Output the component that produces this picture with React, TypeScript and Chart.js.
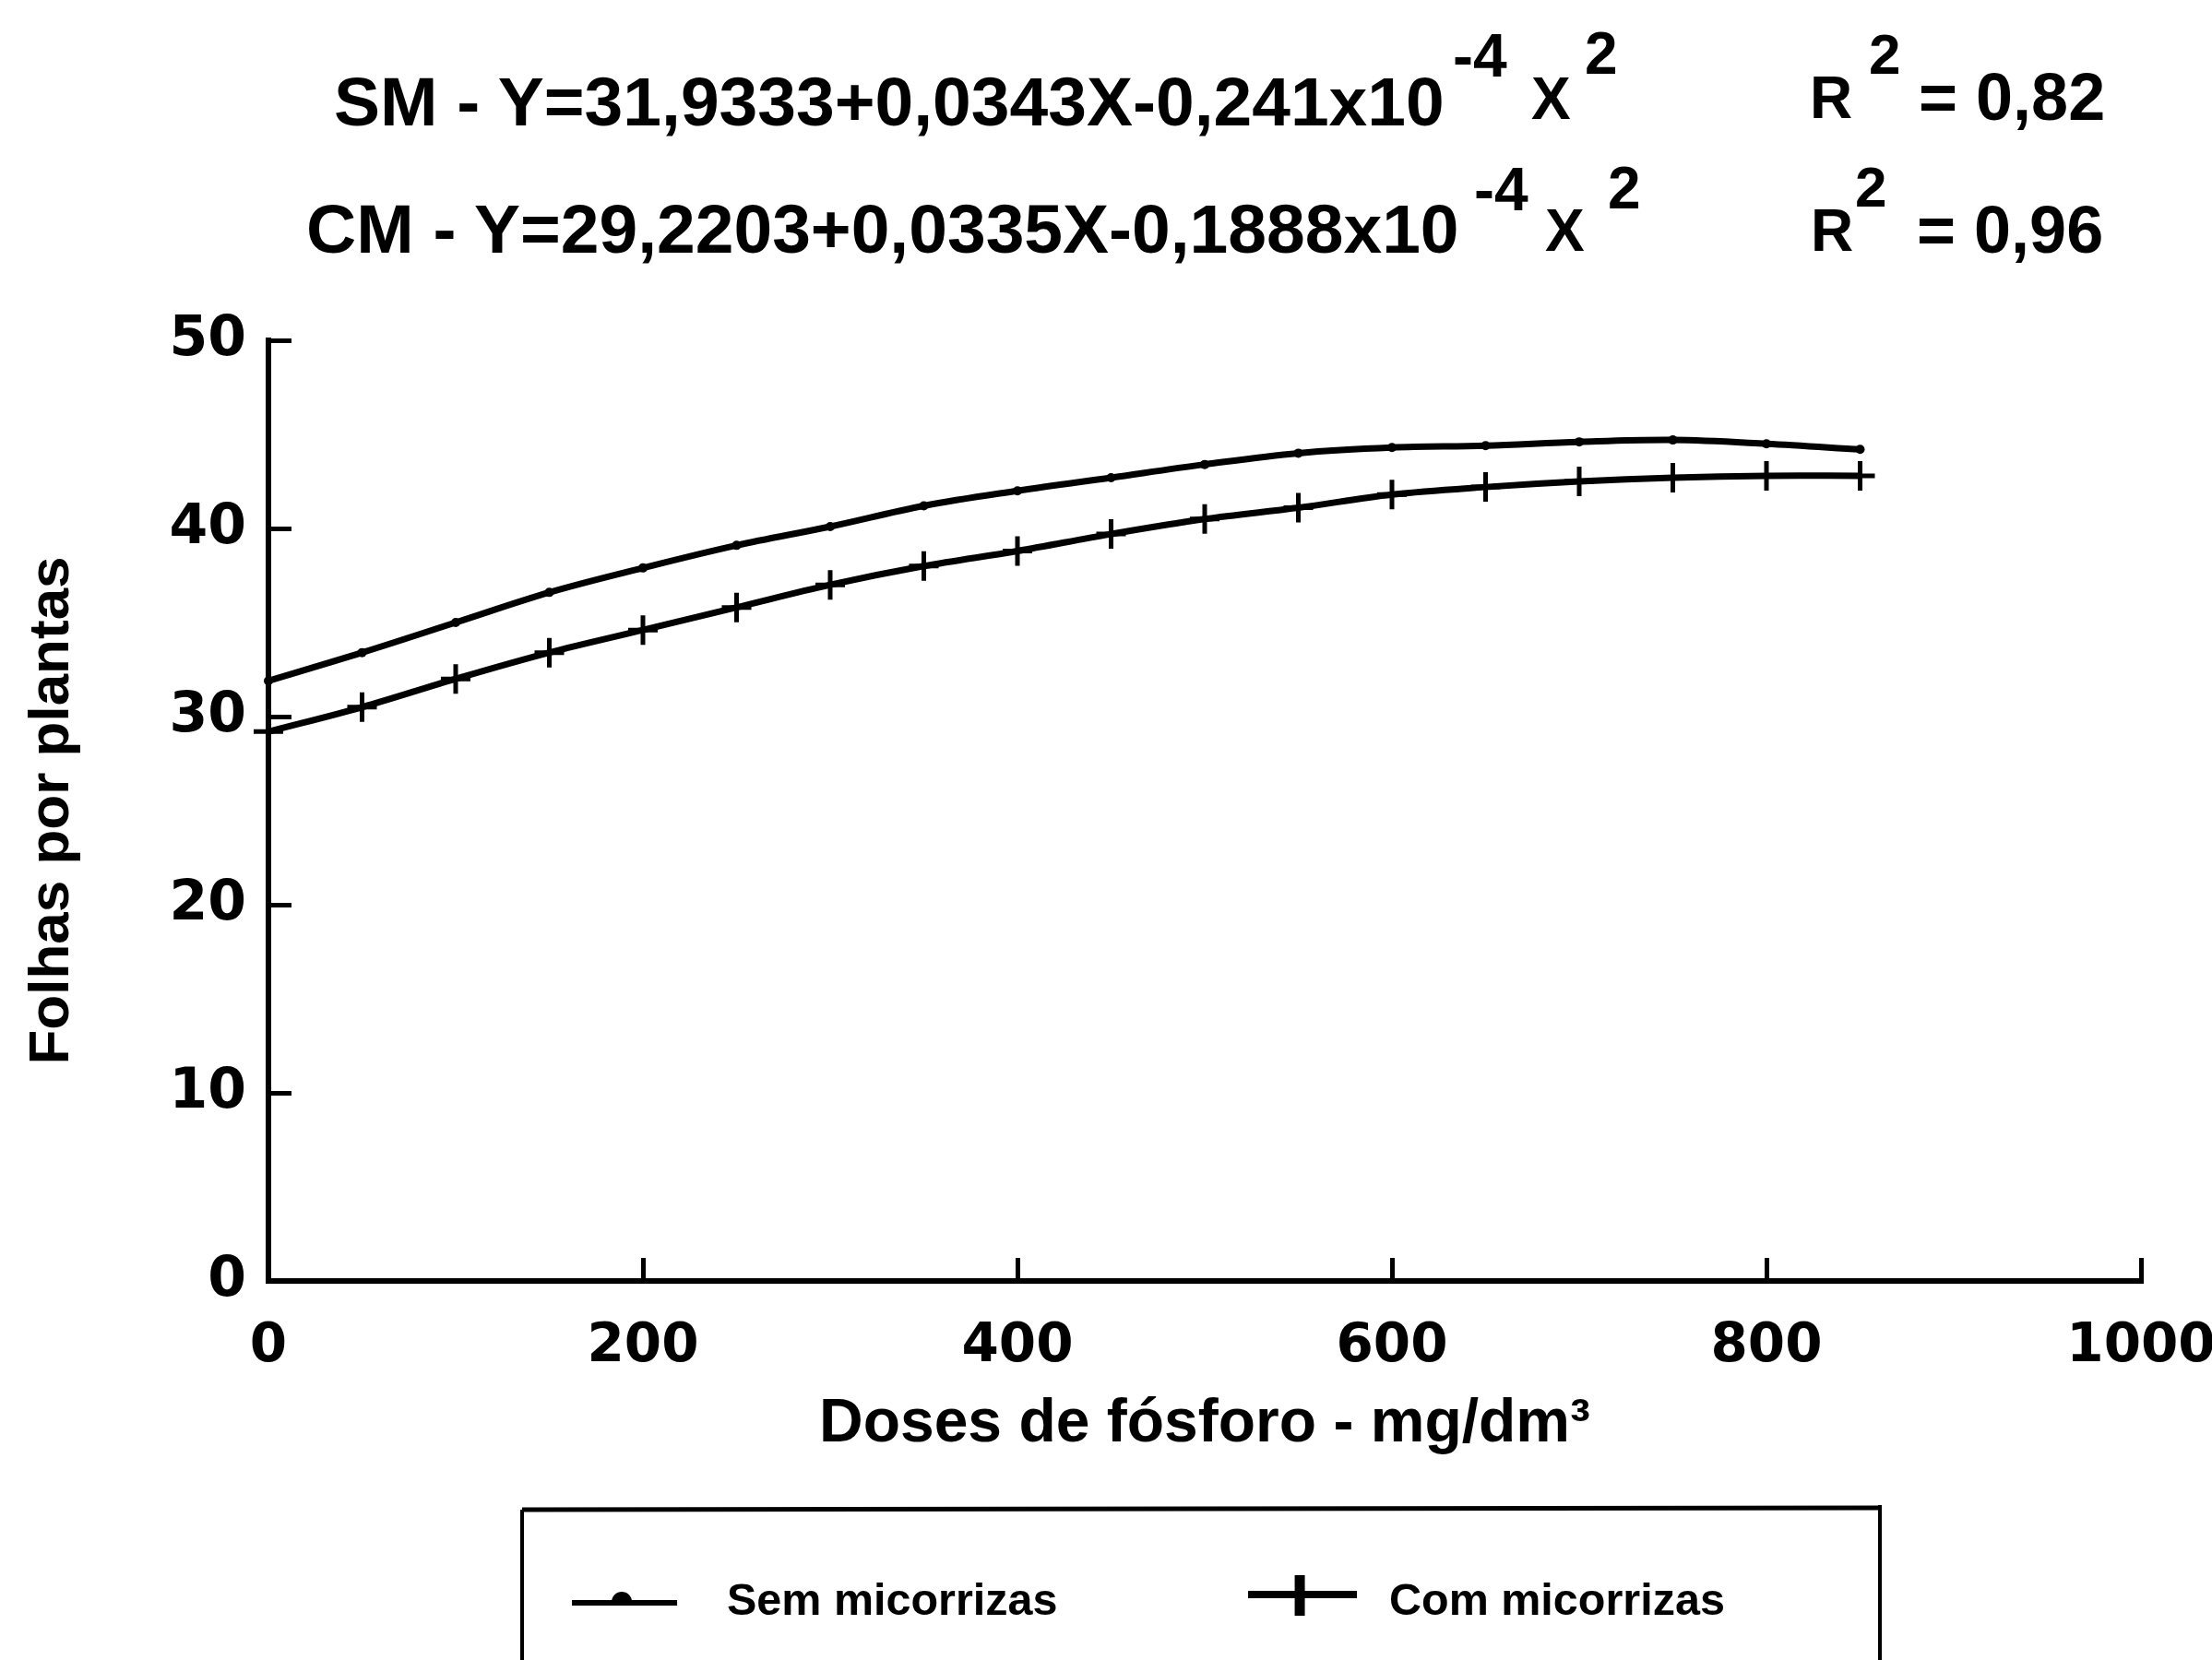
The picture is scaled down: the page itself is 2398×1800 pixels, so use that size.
import React, { useEffect, useRef } from 'react';
import { Chart, registerables } from 'chart.js';

Chart.register(...registerables);

// ---- data ----
const doses = [0, 50, 100, 150, 200, 250, 300, 350, 400, 450, 500, 550, 600, 650, 700, 750, 800, 850];
const semMicorrizas = [31.9, 33.4, 35.0, 36.6, 37.9, 39.1, 40.1, 41.2, 42.0, 42.7, 43.4, 44.0, 44.3, 44.4, 44.6, 44.7, 44.5, 44.2];
const comMicorrizas = [29.2, 30.5, 32.0, 33.4, 34.6, 35.8, 37.0, 38.0, 38.8, 39.7, 40.5, 41.1, 41.8, 42.2, 42.5, 42.7, 42.8, 42.8];
const seriesLabels = ['Sem micorrizas', 'Com micorrizas'];
const xRange = [0, 1000];
const xStep = 200;
const yRange = [0, 50];
const yStep = 10;
const xTitle = 'Doses de fósforo - mg/dm³';
const yTitle = 'Folhas por plantas';

const eqSM = ['SM - Y=31,9333+0,0343X-0,241x10', '-4', 'X', '2'];
const r2SM = ['R', '2', '= 0,82'];
const eqCM = ['CM - Y=29,2203+0,0335X-0,1888x10', '-4', 'X', '2'];
const r2CM = ['R', '2', '= 0,96'];

const SANS = '"Liberation Sans", Arial, sans-serif';
const TICKFONT = '"DejaVu Sans", sans-serif';
const LEGENDFONT = '"Liberation Sans Narrow", "Liberation Sans", Arial, sans-serif';

type PieceProps = { x: number; base: number; size: number; text: string };
function Piece({ x, base, size, text }: PieceProps) {
  return (
    <span
      style={{
        position: 'absolute',
        left: x,
        top: base - 0.8465 * size,
        fontSize: size,
        lineHeight: `${size}px`,
        fontFamily: SANS,
        fontWeight: 'bold',
        whiteSpace: 'pre',
        color: '#000',
      }}
    >
      {text}
    </span>
  );
}

export default function App() {
  const ref = useRef<HTMLCanvasElement | null>(null);

  useEffect(() => {
    const canvas = ref.current;
    if (!canvas) return;

    const plotTop = 369;
    const plotRight = 2321;
    const plotBottom = 1389;
    const plotLeft = 291;

    // legend metrics
    const mctx = document.createElement('canvas').getContext('2d')!;
    mctx.font = `bold 100px ${LEGENDFONT}`;
    const w100 = mctx.measureText(seriesLabels[0]).width;
    const F = Math.round((100 * 360) / w100 * 2) / 2;
    mctx.font = `bold ${F}px ${LEGENDFONT}`;
    const t1 = mctx.measureText(seriesLabels[0]).width;
    const t2 = mctx.measureText(seriesLabels[1]).width;
    const T1 = 788;
    const T2 = 1506;
    const p = Math.max(4, plotRight - t1 - t2 - 2 * T1);
    const X = T2 - T1 - t1 - p;
    const boxW = Math.max(40, X - F / 2);
    const sym1 = 677;
    const sym2 = 1412;
    const textMid = 1738;
    const legendTop = textMid - F / 2 - p;
    const xAxisH = legendTop - plotBottom;
    const legendH = F + p + 10;
    const padBottom = 1800 - legendTop - legendH;

    const makeSym = (kind: 'sem' | 'com', centerX: number) => {
      const c = document.createElement('canvas');
      c.width = Math.round(boxW);
      c.height = 90;
      const g = c.getContext('2d')!;
      const cx = c.width / 2 + centerX;
      g.fillStyle = '#000';
      g.strokeStyle = '#000';
      if (kind === 'sem') {
        const cy = 45;
        g.lineWidth = 6;
        g.beginPath();
        g.moveTo(cx - 57, cy);
        g.lineTo(cx + 57, cy);
        g.stroke();
        g.beginPath();
        g.arc(cx - 3, cy - 1, 11, Math.PI, 0);
        g.fill();
      } else {
        const cy = 45 - 9;
        g.lineWidth = 8;
        g.beginPath();
        g.moveTo(cx - 59, cy);
        g.lineTo(cx + 59, cy);
        g.stroke();
        g.lineWidth = 11;
        g.beginPath();
        g.moveTo(cx - 3, cy - 21);
        g.lineTo(cx - 3, cy + 23);
        g.stroke();
      }
      return c;
    };
    const off1 = sym1 - (T1 - X + boxW / 2);
    const off2 = sym2 - (T2 - X + boxW / 2);
    const legendImages = [makeSym('sem', off1), makeSym('com', off2)];

    const tickSize = 58;
    const xTickPad = 1461 - plotBottom + 25 - (tickSize * 1.2) / 2;
    const xTitleSize = 66;
    const xTitlePadBottom = plotBottom + xAxisH - 1545 - (xTitleSize * 1.2) / 2;

    const legendFrame = {
      id: 'legendFrame',
      afterDraw(chart: any) {
        const ctx = chart.ctx;
        ctx.save();
        ctx.strokeStyle = '#000';
        ctx.lineWidth = 5;
        ctx.beginPath();
        ctx.moveTo(566, 1637);
        ctx.lineTo(2040, 1635);
        ctx.stroke();
        ctx.lineWidth = 4;
        ctx.beginPath();
        ctx.moveTo(566, 1637);
        ctx.lineTo(566, 1800);
        ctx.moveTo(2038, 1632);
        ctx.lineTo(2038, 1800);
        ctx.stroke();
        ctx.restore();
      },
    };

    const chart = new Chart(canvas, {
      type: 'line',
      data: {
        datasets: [
          {
            label: seriesLabels[0],
            data: doses.map((x, i) => ({ x, y: semMicorrizas[i] })),
            borderColor: '#000',
            backgroundColor: '#000',
            borderWidth: 7,
            pointStyle: 'circle',
            pointRadius: 5,
            pointBorderWidth: 0,
            pointBackgroundColor: '#000',
            tension: 0.35,
            fill: false,
            clip: false as any,
          },
          {
            label: seriesLabels[1],
            data: doses.map((x, i) => ({ x, y: comMicorrizas[i] })),
            borderColor: '#000',
            backgroundColor: '#000',
            borderWidth: 7,
            pointStyle: 'cross',
            pointRadius: 16,
            pointBorderWidth: 5,
            pointBorderColor: '#000',
            tension: 0.35,
            fill: false,
            clip: false as any,
          },
        ],
      },
      options: {
        responsive: false,
        animation: false,
        devicePixelRatio: 1,
        layout: { padding: { left: 0, top: plotTop, right: 2398 - plotRight, bottom: padBottom } },
        plugins: {
          tooltip: { enabled: false },
          title: { display: false },
          legend: {
            display: true,
            position: 'bottom',
            align: 'center',
            labels: {
              usePointStyle: true,
              pointStyleWidth: boxW,
              padding: p,
              color: '#000',
              font: { family: LEGENDFONT, size: F, weight: 'bold' },
              generateLabels: (ch: any) => {
                const items = (Chart.defaults.plugins.legend.labels as any).generateLabels(ch);
                items.forEach((it: any, i: number) => {
                  it.pointStyle = legendImages[i];
                });
                return items;
              },
            },
          },
        },
        scales: {
          x: {
            type: 'linear',
            position: 'bottom',
            min: xRange[0],
            max: xRange[1],
            ticks: {
              stepSize: xStep,
              autoSkip: false,
              maxRotation: 0,
              color: '#000',
              padding: xTickPad,
              font: { family: TICKFONT, size: tickSize, weight: 'bold' },
              callback: (v: any) => String(v),
            },
            grid: {
              display: true,
              drawOnChartArea: false,
              drawTicks: true,
              tickLength: -25,
              tickWidth: 5,
              tickColor: '#000',
              color: '#000',
            },
            border: { display: true, width: 6, color: '#000' },
            title: {
              display: true,
              text: xTitle,
              color: '#000',
              font: { family: SANS, size: xTitleSize, weight: 'bold' },
              padding: { top: 0, bottom: xTitlePadBottom },
            },
            afterFit: (s: any) => {
              s.height = xAxisH;
              s.paddingLeft = 0;
              s.paddingRight = 0;
            },
          },
          y: {
            type: 'linear',
            min: yRange[0],
            max: yRange[1],
            ticks: {
              stepSize: yStep,
              color: '#000',
              padding: 49,
              font: { family: TICKFONT, size: 60, weight: 'bold' },
              callback: (v: any) => String(v),
            },
            grid: {
              display: true,
              drawOnChartArea: false,
              drawTicks: true,
              tickLength: -25,
              tickWidth: 5,
              tickColor: '#000',
              color: '#000',
            },
            border: { display: true, width: 6, color: '#000' },
            title: {
              display: true,
              text: yTitle,
              color: '#000',
              font: { family: SANS, size: 62, weight: 'bold' },
              padding: { top: 20, bottom: 0 },
            },
            afterFit: (s: any) => {
              s.width = plotLeft;
              s.paddingTop = 0;
              s.paddingBottom = 0;
            },
          },
        },
      } as any,
      plugins: [legendFrame],
    });

    return () => {
      chart.destroy();
    };
  }, []);

  return (
    <div style={{ position: 'absolute', left: 0, top: 0, width: 2398, height: 1800, background: '#fff', overflow: 'hidden' }}>
      <canvas ref={ref} width={2398} height={1800} style={{ position: 'absolute', left: 0, top: 0, width: 2398, height: 1800 }} />
      <Piece x={362} base={136} size={75} text={eqSM[0]} />
      <Piece x={1575} base={83} size={66} text={eqSM[1]} />
      <Piece x={1660} base={129} size={64} text={eqSM[2]} />
      <Piece x={1718} base={80} size={64} text={eqSM[3]} />
      <Piece x={1962} base={128} size={64} text={r2SM[0]} />
      <Piece x={2026} base={80} size={62} text={r2SM[1]} />
      <Piece x={2080} base={130} size={72} text={r2SM[2]} />
      <Piece x={332} base={274} size={75} text={eqCM[0]} />
      <Piece x={1598} base={228} size={66} text={eqCM[1]} />
      <Piece x={1675} base={272} size={64} text={eqCM[2]} />
      <Piece x={1743} base={226} size={64} text={eqCM[3]} />
      <Piece x={1963} base={272} size={64} text={r2CM[0]} />
      <Piece x={2011} base={224} size={62} text={r2CM[1]} />
      <Piece x={2078} base={274} size={72} text={r2CM[2]} />
    </div>
  );
}
